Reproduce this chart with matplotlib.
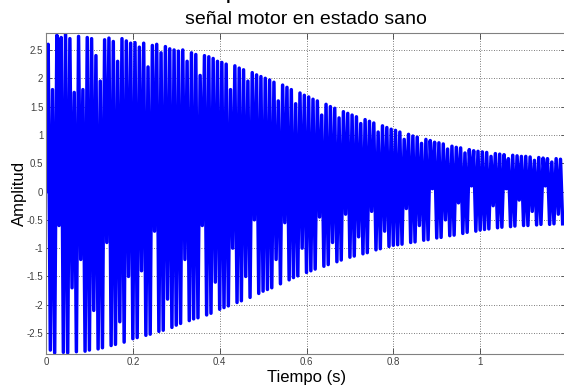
import matplotlib
matplotlib.use("Agg")
import matplotlib.pyplot as plt
import numpy as np

plt.rcParams['font.family'] = ['Liberation Sans', 'DejaVu Sans']

# positive peaks, one per 0.01 s cycle (t = 0.005 ... 1.185)
peaks = [2.60, 1.80, 2.76, 2.72, 2.78, 2.70, 1.75, 2.74, 1.80, 2.72,
         2.70, 2.40, 1.95, 2.68, 2.71, 2.65, 2.30, 2.70, 2.66, 2.62,
         2.63, 2.55, 2.62, 2.20, 2.58, 2.60, 2.45, 2.56, 2.52, 2.50,
         2.48, 2.50, 2.30, 2.45, 2.42, 2.05, 2.40, 2.38, 2.35, 2.30,
         2.28, 2.25, 1.80, 2.22, 2.18, 2.15, 1.95, 2.10, 2.06, 2.03,
         2.00, 1.97, 1.93, 1.60, 1.88, 1.84, 1.80, 1.55, 1.74, 1.70,
         1.67, 1.63, 1.60, 1.35, 1.54, 1.50, 1.47, 1.30, 1.41, 1.38,
         1.35, 1.32, 1.20, 1.27, 1.24, 1.21, 1.05, 1.16, 1.13, 1.10,
         1.08, 1.05, 0.92, 1.01, 0.98, 0.96, 0.85, 0.92, 0.90, 0.87,
         0.86, 0.84, 0.75, 0.80, 0.78, 0.77, 0.68, 0.74, 0.72, 0.71,
         0.70, 0.69, 0.62, 0.67, 0.66, 0.65, 0.58, 0.64, 0.63, 0.62,
         0.62, 0.61, 0.55, 0.60, 0.59, 0.58, 0.52, 0.58, 0.57]

# negative troughs, one per cycle (t = 0.01 ... 1.19)
troughs = [-2.80, -2.85, -0.60, -2.84, -2.85, -1.70, -2.83, -1.20, -2.82, -2.80,
           -2.10, -2.78, -2.76, -0.90, -2.72, -2.70, -2.30, -2.66, -1.50, -2.60,
           -2.58, -1.40, -2.54, -2.52, -0.70, -2.47, -2.45, -1.90, -2.40, -2.36,
           -2.33, -1.20, -2.28, -2.25, -2.23, -0.60, -2.18, -2.15, -1.60, -2.08,
           -2.05, -2.02, -1.00, -1.96, -1.93, -1.50, -1.87, -0.50, -1.80, -1.76,
           -1.73, -1.70, -1.20, -1.63, -0.55, -1.56, -1.52, -1.49, -1.00, -1.43,
           -1.40, -1.37, -0.45, -1.32, -1.29, -0.90, -1.24, -1.21, -0.40, -1.16,
           -1.14, -0.80, -1.10, -1.08, -0.35, -1.03, -1.01, -0.70, -0.97, -0.95,
           -0.94, -0.93, -0.30, -0.90, -0.89, -0.60, -0.86, -0.85, 0.05, -0.82,
           -0.81, -0.50, -0.78, -0.77, -0.20, -0.74, -0.72, 0.10, -0.70, -0.68,
           -0.67, -0.66, -0.25, -0.64, -0.63, 0.05, -0.62, -0.61, -0.15, -0.60,
           -0.60, -0.35, -0.59, -0.58, 0.10, -0.58, -0.57, -0.40, -0.57]

cycle = 0.01
n = len(peaks)
t_peaks = cycle / 2 + cycle * np.arange(n)
t_troughs = cycle * np.arange(1, n + 1)

t = np.concatenate([[0.0], np.column_stack([t_peaks, t_troughs]).ravel()])
y = np.concatenate([[0.0], np.column_stack([peaks, troughs]).ravel()])

fig = plt.figure(figsize=(5.64, 3.87), dpi=100)
ax = fig.add_axes([46 / 564, 33 / 387, 521 / 564, 321 / 387])

ax.plot(t, y, color='#0000ff', linewidth=2.5)

ax.set_xlim(0, 1.2)
ax.set_ylim(-2.87, 2.80)
ax.set_xticks([0, 0.2, 0.4, 0.6, 0.8, 1])
ax.set_xticklabels(['0', '0.2', '0.4', '0.6', '0.8', '1'])
yt = [-2.5, -2, -1.5, -1, -0.5, 0, 0.5, 1, 1.5, 2, 2.5]
ax.set_yticks(yt)
ax.set_yticklabels(['%g' % v for v in yt])
ax.tick_params(direction='in', length=4, width=0.6, top=True, right=True,
               labelsize=7, labelcolor='#404040', color='#404040', pad=2)
ax.grid(True, color='#505050', linestyle=(0, (1, 2)), linewidth=0.6)
for s in ax.spines.values():
    s.set_color('#808080')
    s.set_linewidth(0.8)

ax.set_xlabel('Tiempo (s)', fontsize=12, labelpad=2)
ax.set_ylabel('Amplitud', fontsize=12, labelpad=0)
fig.text(306 / 564, 1 - 24 / 387, 'señal motor en estado sano', fontsize=14,
         ha='center', va='baseline')
# large title of the figure above, cut off at the top edge
fig.text(2 / 564, 1 + 2 / 387, 'Señal motor en tiempo', fontsize=18,
         ha='left', va='baseline')

fig.savefig('out.png', dpi=100)
